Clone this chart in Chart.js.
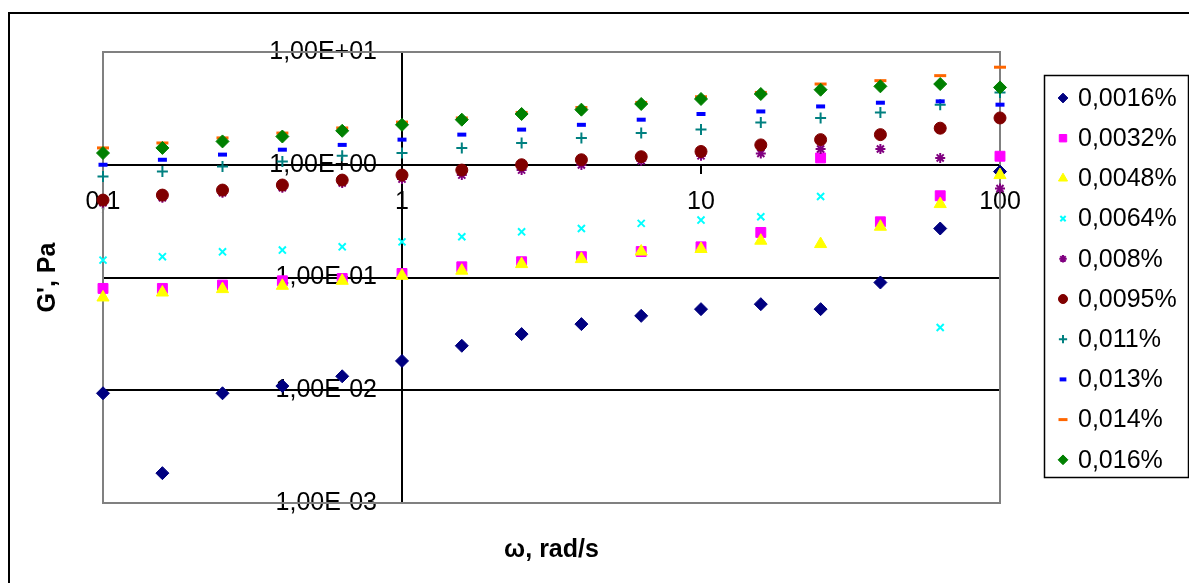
<!DOCTYPE html>
<html>
<head>
<meta charset="utf-8">
<script src="https://cdn.jsdelivr.net/npm/chart.js@4.4.0/dist/chart.umd.min.js"></script>
<style>
    html, body { margin: 0; padding: 0; background: #fff; }
    #wrap { width: 1189px; height: 583px; }
</style>
</head>
<body>
<div id="wrap"><canvas id="gChart" width="1189" height="583"></canvas></div>
<script>
// ω, rad/s (шаг 0,2 декады)
const omega = [0.1, 0.158, 0.251, 0.398, 0.631, 1, 1.585, 2.512, 3.981, 6.31, 10, 15.85, 25.12, 39.81, 63.1, 100];

// G', Pa по концентрациям
const g0016 = [0.0094, 0.00184, 0.0094, 0.0109, 0.0133, 0.0182, 0.0248, 0.0315, 0.0386, 0.0457, 0.0524, 0.058, 0.0524, 0.0903, 0.272, 0.87];
const g0032 = [0.080, 0.080, 0.0856, 0.0935, 0.098, 0.1086, 0.1244, 0.138, 0.153, 0.170, 0.187, 0.251, 1.15, 0.312, 0.531, 1.19];
const g0048 = [0.0665, 0.0736, 0.0789, 0.0844, 0.0935, 0.1035, 0.115, 0.1315, 0.1456, 0.170, 0.179, 0.212, 0.198, 0.282, 0.448, 0.81];
const g0064 = [0.1426, 0.153, 0.169, 0.175, 0.187, 0.207, 0.230, 0.254, 0.272, 0.302, 0.323, 0.346, 0.523, null, 0.036, null];
const g008  = [0.46, 0.51, 0.565, 0.625, 0.69, 0.746, 0.81, 0.897, 0.994, 1.085, 1.20, 1.26, 1.38, 1.38, 1.15, 0.616];
const g0095 = [0.486, 0.538, 0.596, 0.661, 0.731, 0.81, 0.897, 1.0, 1.107, 1.178, 1.31, 1.50, 1.67, 1.85, 2.11, 2.60];
const g011  = [0.787, 0.873, 0.966, 1.07, 1.20, 1.27, 1.41, 1.56, 1.73, 1.91, 2.05, 2.37, 2.60, 2.91, 3.41, 4.38];
const g013  = [1.0, 1.107, 1.23, 1.36, 1.50, 1.67, 1.85, 2.05, 2.26, 2.51, 2.82, 2.97, 3.29, 3.55, 3.65, 3.41];
const g014  = [1.41, 1.56, 1.73, 1.91, 2.12, 2.39, 2.60, 2.91, 3.22, 3.57, 4.01, 4.38, 5.20, 5.57, 6.17, 7.33];
const g016  = [1.27, 1.41, 1.61, 1.78, 2.00, 2.26, 2.51, 2.82, 3.08, 3.46, 3.83, 4.24, 4.63, 4.96, 5.20, 4.85];

const seriesNames = ['0,0016%', '0,0032%', '0,0048%', '0,0064%', '0,008%', '0,0095%', '0,011%', '0,013%', '0,014%', '0,016%'];
const seriesValues = [g0016, g0032, g0048, g0064, g008, g0095, g011, g013, g014, g016];

// подписи осей
const xTickValues = [0.1, 1, 10, 100];
const xTickLabels = ['0,1', '1', '10', '100'];
const yTickValues = [0.001, 0.01, 0.1, 1, 10];
const yTickLabels = ['1,00E-03', '1,00E-02', '1,00E-01', '1,00E+00', '1,00E+01'];

const FONT = "'Liberation Sans', Arial, sans-serif";

// маркеры в стиле Excel
const markers = [
    { color: '#000080', style: 'rectRot',  radius: 6.5, border: 1 },
    { color: '#FF00FF', style: 'rect',     radius: 7,   border: 1 },
    { color: '#FFFF00', style: 'triangle', radius: 7,   border: 1 },
    { color: '#00FFFF', style: 'crossRot', radius: 5,   border: 2 },
    { color: '#800080', style: 'star',     radius: 5,   border: 2 },
    { color: '#800000', style: 'circle',   radius: 6,   border: 1 },
    { color: '#008080', style: 'cross',    radius: 5.5, border: 2 },
    { color: '#0000FF', style: 'line',     radius: 4.5, border: 4 },
    { color: '#FF6600', style: 'line',     radius: 6,   border: 3 },
    { color: '#008000', style: 'rectRot',  radius: 6.5, border: 1 }
];

function toPoints(values) {
    return values
        .map((v, i) => ({ x: omega[i], y: v }))
        .filter(p => p.y !== null);
}

const datasets = seriesValues.map((values, i) => ({
    label: seriesNames[i],
    data: toPoints(values),
    pointStyle: markers[i].style,
    pointRadius: markers[i].radius,
    pointBorderWidth: markers[i].border,
    backgroundColor: markers[i].color,
    borderColor: markers[i].color,
    showLine: false,
    clip: false,
    order: 20 - i // последние серии поверх
}));

// рамки, подписи осей и легенда
const excelFrame = {
    id: 'excelFrame',
    beforeDraw(chart) {
        const ctx = chart.ctx;
        ctx.save();
        ctx.fillStyle = '#fff';
        ctx.fillRect(0, 0, chart.width, chart.height);
        ctx.strokeStyle = '#000';
        ctx.lineWidth = 2;
        ctx.strokeRect(9, 13, 1300, 700);
        ctx.restore();
    },
    beforeDatasetsDraw(chart) {
        const ctx = chart.ctx;
        const a = chart.chartArea;
        ctx.save();
        ctx.strokeStyle = '#808080';
        ctx.lineWidth = 2;
        ctx.strokeRect(a.left, a.top, a.right - a.left, a.bottom - a.top);
        ctx.restore();
    },
    afterDraw(chart) {
        const ctx = chart.ctx;
        const a = chart.chartArea;
        ctx.save();
        ctx.fillStyle = '#000';
        ctx.font = 'bold 25px ' + FONT;
        ctx.textAlign = 'center';
        ctx.textBaseline = 'middle';
        ctx.fillText('ω, rad/s', (a.left + a.right) / 2, 550);
        ctx.translate(48, (a.top + a.bottom) / 2);
        ctx.rotate(-Math.PI / 2);
        ctx.fillText("G', Pa", 0, 0);
        ctx.restore();

        // легенда
        ctx.save();
        ctx.strokeStyle = '#000';
        ctx.lineWidth = 1.5;
        ctx.strokeRect(1044.5, 75.5, 144, 402);
        ctx.font = '25px ' + FONT;
        ctx.textAlign = 'left';
        ctx.textBaseline = 'middle';
        seriesNames.forEach((name, i) => {
            const y = 98 + i * 40.2;
            const m = markers[i];
            ctx.fillStyle = m.color;
            ctx.strokeStyle = m.color;
            ctx.lineWidth = m.border;
            Chart.helpers.drawPoint(ctx, {
                pointStyle: m.style,
                radius: m.radius * 0.75,
                borderWidth: m.border,
                rotation: 0
            }, 1063, y);
            ctx.fillStyle = '#000';
            ctx.fillText(name, 1078, y + 1);
        });
        ctx.restore();
    }
};

const ctx = document.getElementById('gChart').getContext('2d');

const chart = new Chart(ctx, {
    type: 'scatter',
    data: { datasets: datasets },
    options: {
        responsive: false,
        animation: false,
        layout: {
            padding: { left: 103, top: 52, right: 189, bottom: 80 }
        },
        plugins: {
            legend: { display: false },
            tooltip: { enabled: false }
        },
        scales: {
            x: {
                type: 'logarithmic',
                min: 0.1,
                max: 100,
                position: { y: 1 },
                afterBuildTicks: scale => {
                    scale.ticks = xTickValues.map(v => ({ value: v }));
                },
                ticks: {
                    autoSkip: false,
                    maxRotation: 0,
                    padding: 14,
                    color: '#000',
                    font: { family: FONT, size: 25 },
                    callback: (value, index) => xTickLabels[index]
                },
                grid: {
                    drawOnChartArea: false,
                    drawTicks: true,
                    tickLength: 8,
                    color: '#000',
                    lineWidth: 2
                },
                border: { display: true, color: '#000', width: 2 }
            },
            y: {
                type: 'logarithmic',
                min: 0.001,
                max: 10,
                position: { x: 1 },
                afterBuildTicks: scale => {
                    scale.ticks = yTickValues.map(v => ({ value: v }));
                },
                ticks: {
                    autoSkip: false,
                    color: '#000',
                    font: { family: FONT, size: 25 },
                    // отступ от оси двумя пробелами
                    callback: (value, index) => yTickLabels[index] + '\u2002\u2002'
                },
                grid: {
                    drawOnChartArea: true,
                    drawTicks: true,
                    tickLength: 8,
                    color: '#000',
                    lineWidth: 2
                },
                border: { display: true, color: '#000', width: 2 }
            }
        }
    },
    plugins: [excelFrame]
});
</script>
</body>
</html>
